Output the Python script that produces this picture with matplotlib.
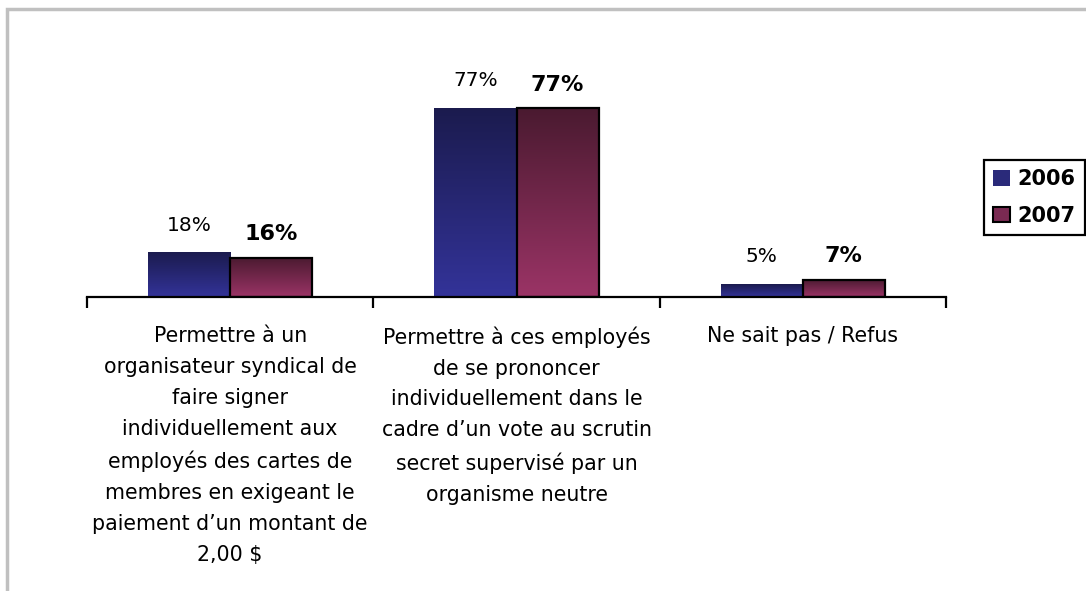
import numpy as np
import matplotlib
matplotlib.use("Agg")
import matplotlib.pyplot as plt
from matplotlib.colors import LinearSegmentedColormap
from matplotlib.patches import Rectangle, Patch

categories = [
    "Permettre à un\norganisateur syndical de\nfaire signer\nindividuellement aux\nemployés des cartes de\nmembres en exigeant le\npaiement d\u2019un montant de\n2,00 $",
    "Permettre à ces employés\nde se prononcer\nindividuellement dans le\ncadre d\u2019un vote au scrutin\nsecret supervisé par un\norganisme neutre",
    "Ne sait pas / Refus",
]
series_names = ["2006", "2007"]
values_2006 = [18, 77, 5]
values_2007 = [16, 77, 7]

W, H = 1086, 591
fig = plt.figure(figsize=(W / 100, H / 100), dpi=100)
FONT = "DejaVu Sans"

# outer gray frame (only top/left visible)
fig.patches.append(Rectangle((7 / W, -0.2), 2.0, 1.2 - 9 / H, transform=fig.transFigure,
                             fill=False, edgecolor="#c0c0c0", linewidth=2.5))

ax_left, ax_right = 87 / W, 946 / W
ax_bottom = (H - 297) / H
ax_h = 230 / H
ax = fig.add_axes([ax_left, ax_bottom, ax_right - ax_left, ax_h])

bw = 82 / 286
x = np.arange(len(categories)) + 0.5

blue_cmap = LinearSegmentedColormap.from_list("b", ["#333399", "#1b1b4e"])
red_cmap = LinearSegmentedColormap.from_list("r", ["#9b3466", "#4a1a30"])

bars1 = ax.bar(x - bw / 2, values_2006, bw, color="none", edgecolor="none", zorder=3)
bars2 = ax.bar(x + bw / 2, values_2007, bw, color="none", edgecolor="black", linewidth=1.6, zorder=4)

grad = np.linspace(0, 1, 256).reshape(-1, 1)
for bars, cmap in ((bars1, blue_cmap), (bars2, red_cmap)):
    for b in bars:
        x0, y0 = b.get_x(), b.get_y()
        ax.imshow(grad, cmap=cmap, origin="lower", aspect="auto",
                  extent=(x0, x0 + b.get_width(), y0, y0 + b.get_height()), zorder=2)
ax.set_xlim(0, 3)
ax.set_ylim(0, 230 / 2.45)

for b, v in zip(bars1, values_2006):
    ax.annotate(f"{v}%", (b.get_x() + b.get_width() / 2, v), xytext=(0, 20),
                textcoords="offset points", ha="center", va="center",
                fontsize=14.5, family=FONT, color="black")
for b, v in zip(bars2, values_2007):
    ax.annotate(f"{v}%", (b.get_x() + b.get_width() / 2, v), xytext=(0, 17),
                textcoords="offset points", ha="center", va="center",
                fontsize=16, family=FONT, fontweight="bold", color="black")

for s in ("top", "right", "left"):
    ax.spines[s].set_visible(False)
ax.spines["bottom"].set_linewidth(1.6)
ax.set_yticks([])
ax.set_xticks([0, 1, 2, 3])
ax.set_xticklabels([])
ax.tick_params(axis="x", which="major", length=8, width=1.6, direction="out")
ax.set_xticks(x, minor=True)
ax.set_xticklabels(categories, minor=True, fontsize=14.8, family=FONT,
                   linespacing=1.68, va="top")
ax.tick_params(axis="x", which="minor", length=0, pad=21)

handles = [Patch(facecolor="#2a2a7a", edgecolor="none"),
           Patch(facecolor="#7a2a52", edgecolor="black", linewidth=1.5)]
leg = fig.legend(handles, series_names, loc="upper left", bbox_to_anchor=(984 / W, 1 - 160 / H),
                 frameon=True, fancybox=False, edgecolor="black", framealpha=1,
                 prop={"family": FONT, "weight": "bold", "size": 15},
                 handlelength=0.82, handleheight=0.75, handletextpad=0.34,
                 borderpad=0.45, labelspacing=0.8, borderaxespad=0)
leg.get_frame().set_linewidth(1.6)

fig.savefig("out.png", dpi=100)
